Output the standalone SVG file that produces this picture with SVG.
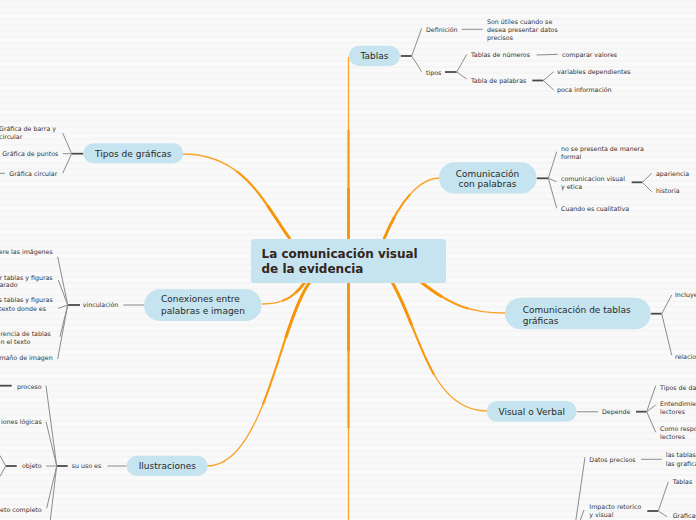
<svg xmlns="http://www.w3.org/2000/svg" width="696" height="520" viewBox="0 0 696 520">
<defs>
<pattern id="stripes" width="10" height="6" patternUnits="userSpaceOnUse">
<rect width="10" height="6" fill="#f9f9f9"/>
<rect y="0" width="10" height="2" fill="#f5f5f5"/>
</pattern>
</defs>
<style>
.o1{fill:none;stroke:#fba22a;stroke-width:1.3}
.o2{fill:none;stroke:#f99a12;stroke-width:2.1;stroke-dasharray:60 200}
.o3{fill:none;stroke:#f7950a;stroke-width:2.9;stroke-dasharray:28 200}
.stub{stroke:#4a4a4a;stroke-width:1.8;fill:none}
.br{stroke:#8c8c8c;stroke-width:1;fill:none}
.single{stroke:#a8a8a8;stroke-width:1.4;fill:none}
.pill{fill:#c5e4ef}
text{font-family:"DejaVu Sans",Verdana,sans-serif;fill:#333}
.t{font-size:6.3px}
.tn{font-size:9px;fill:#2a2a2a}
.tc{font-size:12px;font-weight:bold;fill:#33251c}
.e{text-anchor:end}
.m{text-anchor:middle}
</style>
<rect width="696" height="520" fill="url(#stripes)"/>

<g id="connectors">
<path class="o1" pathLength="100" d="M348.5,239 L348.5,57"/>
<path class="o2" pathLength="100" d="M348.5,239 L348.5,57"/>
<path class="o3" pathLength="100" d="M348.5,239 L348.5,57"/>
<path class="o1" pathLength="100" d="M348.5,283 L348.5,525"/>
<path class="o2" pathLength="100" d="M348.5,283 L348.5,525"/>
<path class="o3" pathLength="100" d="M348.5,283 L348.5,525"/>
<path class="o1" pathLength="100" d="M384,239 C400,200 420,178 440,178"/>
<path class="o2" pathLength="100" d="M384,239 C400,200 420,178 440,178"/>
<path class="o3" pathLength="100" d="M384,239 C400,200 420,178 440,178"/>
<path class="o1" pathLength="100" d="M290,239 C265,205 245,154 183,154"/>
<path class="o2" pathLength="100" d="M290,239 C265,205 245,154 183,154"/>
<path class="o3" pathLength="100" d="M290,239 C265,205 245,154 183,154"/>
<path class="o1" pathLength="100" d="M305,282 C295,296 285,304 262,304"/>
<path class="o2" pathLength="100" d="M305,282 C295,296 285,304 262,304"/>
<path class="o3" pathLength="100" d="M305,282 C295,296 285,304 262,304"/>
<path class="o1" pathLength="100" d="M310,282 C280,320 265,466 207,466"/>
<path class="o2" pathLength="100" d="M310,282 C280,320 265,466 207,466"/>
<path class="o3" pathLength="100" d="M310,282 C280,320 265,466 207,466"/>
<path class="o1" pathLength="100" d="M421,282 C450,305 470,313 505,313"/>
<path class="o2" pathLength="100" d="M421,282 C450,305 470,313 505,313"/>
<path class="o3" pathLength="100" d="M421,282 C450,305 470,313 505,313"/>
<path class="o1" pathLength="100" d="M392,282 C420,330 430,411 487,411"/>
<path class="o2" pathLength="100" d="M392,282 C420,330 430,411 487,411"/>
<path class="o3" pathLength="100" d="M392,282 C420,330 430,411 487,411"/>

<!-- Tablas -->
<path class="stub" d="M400.7,56 H411.7"/>
<path class="br" d="M411.7,56 L421.7,28.3 M411.7,56 L421.7,71.7"/>
<path class="br" d="M461.7,29.3 H482.7"/>
<path class="stub" d="M445,72 H456.7"/>
<path class="br" d="M456.7,72 L466.7,54.5 M456.7,72 L466.7,79"/>
<path class="br" d="M536.7,55 L557.7,54.3"/>
<path class="stub" d="M532.3,80.5 H543.3"/>
<path class="br" d="M543.3,80.5 L553.7,71.7 M543.3,80.5 L553.7,90"/>
<!-- Comunicación con palabras -->
<path class="stub" d="M536.7,178.3 H548.3"/>
<path class="br" d="M548.3,178.3 L556.7,151.7 M548.3,178.3 L556.7,181.7 M548.3,178.3 L556.7,208.3"/>
<path class="stub" d="M631.7,182.3 H642.3"/>
<path class="br" d="M642.3,182.3 L651.7,173.3 M642.3,182.3 L651.7,191.7"/>
<!-- Tipos de gráficas -->
<path class="stub" d="M83.3,153.7 H71.7"/>
<path class="br" d="M71.7,153.7 L62.7,133 M71.7,153.7 L62.7,153.7 M71.7,153.7 L62.7,173.3"/>
<path class="br" d="M0,173.3 H5"/>
<!-- Conexiones -->
<path class="single" d="M144,305 H123.3"/>
<path class="stub" d="M80,305 H67.7"/>
<path class="br" d="M67.7,305 L57.7,256.7 M67.7,305 L58.3,280 M67.7,305 L58.3,308.3 M67.7,305 L60,336.7 M67.7,305 L57.7,359"/>
<!-- Ilustraciones -->
<path class="single" d="M126.7,466 H107.3"/>
<path class="stub" d="M67.7,466 H56.7"/>
<path class="br" d="M56.7,466 L46,385.7 M56.7,466 L46,421.7 M56.7,466 L46,466 M56.7,466 L46.7,508.3 M56.7,466 L48,540"/>
<path class="stub" d="M0,385.7 H11.7"/>
<path class="stub" d="M16.7,466 H5.7"/>
<path class="br" d="M5.7,466 L0,455.5 M5.7,466 L0,476.5"/>
<!-- Comunicación de tablas gráficas -->
<path class="stub" d="M650.7,313.7 H661.7"/>
<path class="br" d="M661.7,313.7 L671.7,295 M661.7,313.7 L671.7,355"/>
<!-- Visual o Verbal -->
<path class="single" d="M576.7,411.7 H598.3"/>
<path class="stub" d="M636,411.7 H646.7"/>
<path class="br" d="M646.7,411.7 L655.7,385.7 M646.7,411.7 L655.7,405 M646.7,411.7 L655.7,432.3"/>
<!-- bottom right -->
<path class="br" d="M573,540 L585,457.3 M573,540 L584,510"/>
<path class="br" d="M641,459.3 H661.7"/>
<path class="stub" d="M647.3,511 H658.3"/>
<path class="br" d="M658.3,511 L668.3,481.7 M658.3,511 L667,516.7"/>
</g>

<g id="center">
<rect x="251" y="239" width="195" height="44" rx="3" fill="#c5e4ef"/>
<text class="tc" x="261.5" y="258.3">La comunicación visual</text>
<text class="tc" x="261.5" y="272.7">de la evidencia</text>
</g>

<g id="tablas">
<rect class="pill" x="349" y="45.7" width="51" height="20.3" rx="10.15"/>
<text class="tn m" x="374.5" y="59.2">Tablas</text>
<text class="t" x="426" y="31.5">Definición</text>
<text class="t" x="487" y="24">Son útiles cuando se</text>
<text class="t" x="487" y="32">desea presentar datos</text>
<text class="t" x="487" y="40">precisos</text>
<text class="t" x="426" y="74.5">tipos</text>
<text class="t" x="471" y="57.2">Tablas de números</text>
<text class="t" x="562" y="56.5">comparar valores</text>
<text class="t" x="471" y="82.5">Tabla de palabras</text>
<text class="t" x="557" y="74.2">variables dependientes</text>
<text class="t" x="557" y="92">poca información</text>
</g>

<g id="com-palabras">
<rect class="pill" x="439" y="162.3" width="97.5" height="31.2" rx="15.6"/>
<text class="tn m" x="487.5" y="176.6">Comunicación</text>
<text class="tn m" x="487.5" y="187.3">con palabras</text>
<text class="t" x="561" y="150.5">no se presenta de manera</text>
<text class="t" x="561" y="159">formal</text>
<text class="t" x="561" y="181.2">comunicacion visual</text>
<text class="t" x="561" y="189">y etica</text>
<text class="t" x="656" y="175.5">apariencia</text>
<text class="t" x="656" y="193">historia</text>
<text class="t" x="561" y="211.2">Cuando es cualitativa</text>
</g>

<g id="tipos-graficas">
<rect class="pill" x="83.3" y="143.3" width="100" height="20" rx="10"/>
<text class="tn m" x="133.3" y="157">Tipos de gráficas</text>
<text class="t" x="-1" y="130.5">Gráfica de barra y</text>
<text class="t" x="-1" y="138.5">circular</text>
<text class="t e" x="58.3" y="156">Gráfica de puntos</text>
<text class="t e" x="57.3" y="175.5">Gráfica circular</text>
</g>

<g id="conexiones">
<rect class="pill" x="144" y="289.3" width="117.7" height="31.7" rx="15.85"/>
<text class="tn" x="161" y="302.4">Conexiones entre</text>
<text class="tn" x="161" y="314">palabras e imagen</text>
<text class="t e" x="118.3" y="307.2">vinculación</text>
<text class="t e" x="52.7" y="254">ere las imágenes</text>
<text class="t" x="-0.6" y="279.5">r tablas y figuras</text>
<text class="t" x="-0.6" y="287.3">arado</text>
<text class="t" x="-1.2" y="302.2">s tablas y figuras</text>
<text class="t" x="-1.2" y="310.5">texto donde es</text>
<text class="t" x="0.4" y="336.2">rencia de tablas</text>
<text class="t" x="0.4" y="344">n el texto</text>
<text class="t e" x="52.7" y="359.5">maño de imagen</text>
</g>

<g id="ilustraciones">
<rect class="pill" x="126.7" y="455.7" width="81" height="20.3" rx="10.15"/>
<text class="tn m" x="167.3" y="469.2">Ilustraciones</text>
<text class="t" x="71.7" y="468">su uso es</text>
<text class="t e" x="41.7" y="388.5">proceso</text>
<text class="t e" x="41.7" y="424">iones lógicas</text>
<text class="t e" x="41.7" y="468">objeto</text>
<text class="t e" x="41.7" y="511.5">eto completo</text>
</g>

<g id="com-tablas-graficas">
<rect class="pill" x="505" y="297.7" width="145.7" height="31.6" rx="15.8"/>
<text class="tn" x="522.7" y="312.5">Comunicación de tablas</text>
<text class="tn" x="522.7" y="323.5">gráficas</text>
<text class="t" x="675" y="297.2">Incluye</text>
<text class="t" x="675" y="358.5">relacion</text>
</g>

<g id="visual-verbal">
<rect class="pill" x="486.7" y="401" width="90" height="20.7" rx="10.35"/>
<text class="tn m" x="531.7" y="414.7">Visual o Verbal</text>
<text class="t" x="602" y="414">Depende</text>
<text class="t" x="660" y="389.5">Tipos de datos</text>
<text class="t" x="660" y="406">Entendimiento</text>
<text class="t" x="660" y="414">lectores</text>
<text class="t" x="660" y="430.5">Como responden</text>
<text class="t" x="660" y="439">lectores</text>
</g>

<g id="bottom-branch">
<text class="t" x="589.3" y="461.5">Datos precisos</text>
<text class="t" x="665.7" y="457.2">las tablas</text>
<text class="t" x="665.7" y="465.5">las graficas</text>
<text class="t" x="589.3" y="509">Impacto retorico</text>
<text class="t" x="589.3" y="516.5">y visual</text>
<text class="t" x="672.7" y="484">Tablas</text>
<text class="t" x="672.7" y="518">Graficas</text>
</g>
</svg>
